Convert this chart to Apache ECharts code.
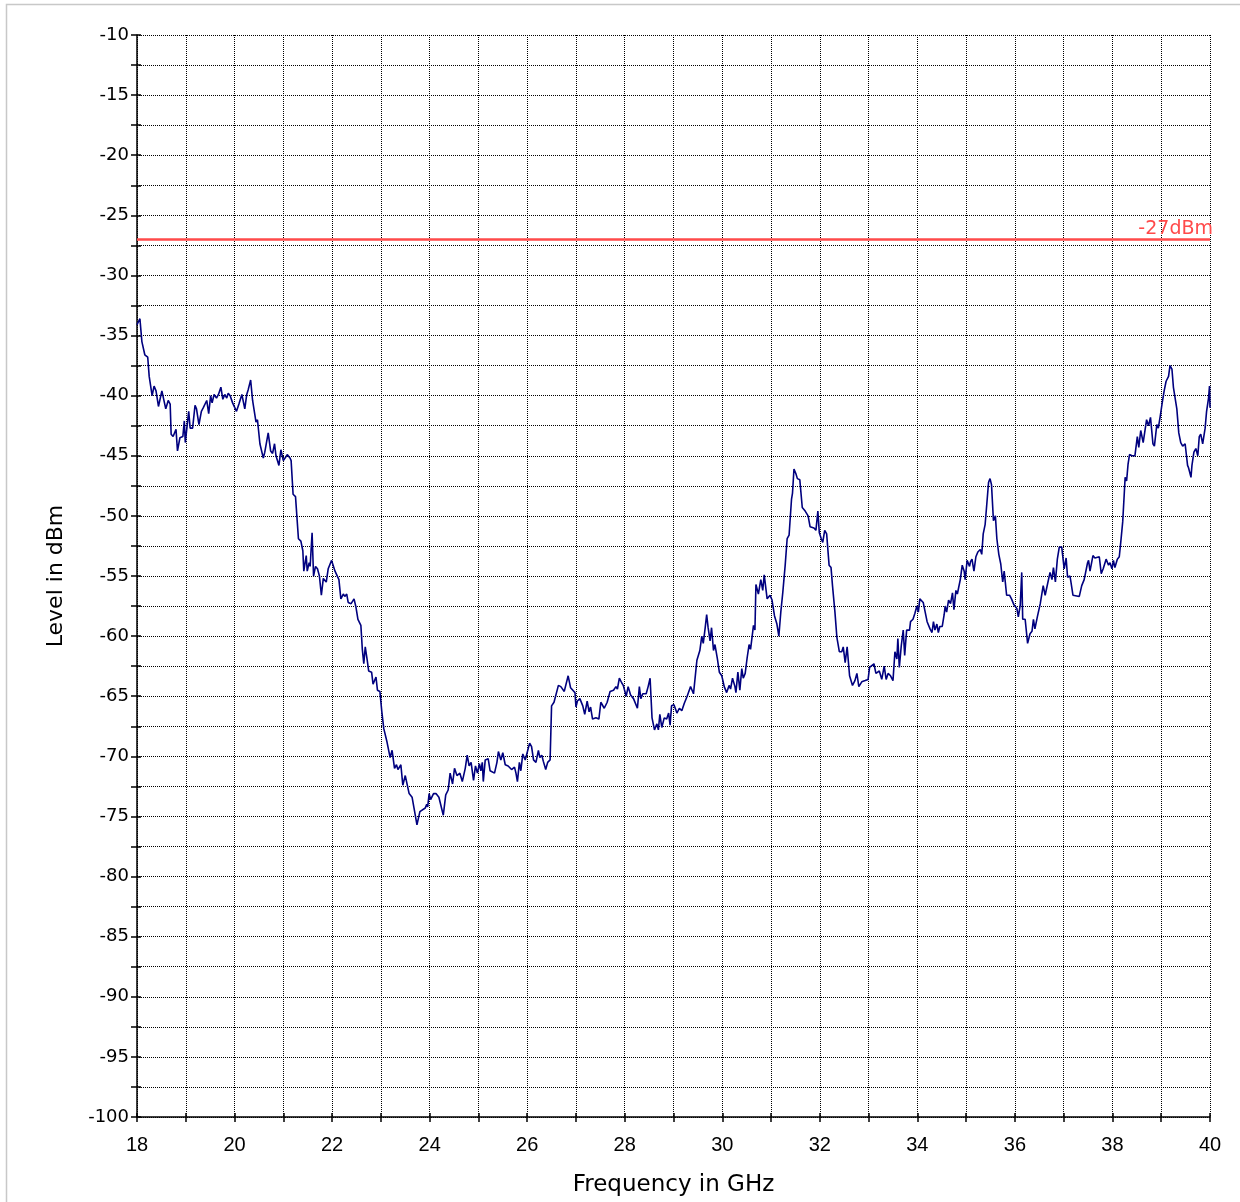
<!DOCTYPE html>
<html>
<head>
<meta charset="utf-8">
<script src="https://cdn.jsdelivr.net/npm/echarts@6/dist/echarts.min.js"></script>
<style>
  html, body { margin: 0; padding: 0; background: #fff; }
  #chart { width: 1240px; height: 1202px; }
</style>
</head>
<body>
<div id="chart"></div>
<script>
// Measured spectrum, 18–40 GHz
const freqGHz = [
  18.00,18.06,18.10,18.16,18.22,18.25,18.28,18.31,18.35,18.39,18.44,18.51,18.59,18.64,18.68,18.70,18.74,18.78,18.80,18.83,
  18.88,18.94,18.97,18.99,19.02,19.06,19.09,19.14,19.19,19.22,19.27,19.32,19.36,19.39,19.43,19.47,19.51,19.54,19.58,19.63,
  19.67,19.72,19.76,19.80,19.84,19.87,19.91,19.96,20.00,20.04,20.09,20.13,20.15,20.21,20.25,20.28,20.33,20.37,20.40,20.44,
  20.47,20.52,20.59,20.62,20.69,20.74,20.78,20.82,20.85,20.91,20.95,21.00,21.05,21.08,21.14,21.16,21.20,21.25,
  21.31,21.36,21.40,21.42,21.47,21.49,21.53,21.55,21.59,21.62,21.66,21.70,21.74,21.78,21.82,21.85,21.88,21.92,21.99,22.06,
  22.14,22.18,22.23,22.26,22.30,22.33,22.39,22.45,22.49,22.53,22.59,22.62,22.65,22.68,22.72,22.75,22.81,22.84,22.90,22.93,
  22.98,23.02,23.06,23.12,23.19,23.23,23.28,23.32,23.35,23.41,23.45,23.50,23.58,23.64,23.68,23.74,23.80,23.84,23.91,23.94,
  23.96,23.99,24.02,24.08,24.13,24.19,24.28,24.33,24.38,24.42,24.47,24.51,24.56,24.62,24.67,24.73,24.77,24.81,24.85,24.90,
  24.94,24.98,25.02,25.05,25.08,25.10,25.14,25.20,25.24,25.33,25.38,25.41,25.46,25.50,25.55,25.61,25.68,25.74,25.77,25.80,
  25.84,25.87,25.91,25.96,26.00,26.05,26.09,26.13,26.18,26.23,26.26,26.30,26.33,26.38,26.42,26.47,26.50,26.55,26.59,26.64,
  26.69,26.76,26.84,26.89,26.93,26.98,27.00,27.03,27.08,27.14,27.18,27.23,27.27,27.30,27.34,27.41,27.47,27.51,27.58,27.64,
  27.70,27.77,27.82,27.85,27.89,27.94,27.97,28.03,28.07,28.12,28.18,28.26,28.30,28.33,28.37,28.44,28.48,28.52,28.56,28.61,
  28.66,28.69,28.72,28.76,28.81,28.86,28.90,28.93,28.96,29.01,29.07,29.12,29.17,29.22,29.28,29.35,29.41,29.44,29.48,29.51,
  29.54,29.58,29.61,29.65,29.68,29.71,29.75,29.78,29.82,29.85,29.90,29.94,29.99,30.04,30.09,30.14,30.17,30.21,30.26,30.28,
  30.32,30.36,30.40,30.43,30.47,30.51,30.55,30.58,30.64,30.67,
  30.69,30.74,30.79,30.83,30.86,30.92,30.98,31.02,31.07,31.12,31.16,31.20,31.24,31.29,31.33,31.37,31.42,31.44,31.47,31.51,
  31.54,31.59,31.64,31.70,31.76,31.80,31.83,31.88,31.92,31.96,31.99,32.03,32.06,32.10,32.14,32.19,32.23,32.26,32.31,32.35,
  32.40,32.45,32.48,32.52,32.56,32.61,32.67,32.72,32.76,32.80,32.86,32.93,32.99,33.02,33.06,33.11,33.15,33.22,33.27,33.32,
  33.36,33.40,33.45,33.50,33.54,33.58,33.60,33.63,33.67,33.71,33.74,33.78,33.84,33.86,33.91,33.95,33.99,34.02,34.05,34.09,
  34.12,34.16,34.20,34.26,34.30,34.33,34.36,34.40,34.43,34.46,34.51,34.55,34.57,34.60,34.64,34.68,34.72,34.75,34.79,34.82,
  34.88,34.92,34.96,34.98,35.02,35.07,35.09,35.12,35.16,35.20,35.24,35.29,35.32,35.35,35.39,35.42,35.46,35.49,35.52,35.56,
  35.60,35.63,35.67,35.71,35.75,35.78,35.83,35.89,35.93,35.98,36.04,36.07,36.11,36.14,36.16,36.21,36.26,36.31,36.35,36.38,
  36.41,36.46,36.52,36.56,36.58,36.62,36.66,36.72,36.76,36.79,36.83,36.87,36.91,36.96,37.01,37.05,37.08,37.13,37.19,37.23,
  37.32,37.37,37.42,37.44,37.49,37.51,37.54,37.60,37.64,37.73,37.77,37.81,37.87,37.92,37.95,37.99,38.02,38.05,38.10,38.14,
  38.17,38.21,38.24,38.26,38.29,38.32,38.35,38.40,38.46,38.51,38.54,38.58,38.63,38.70,38.74,38.78,38.83,38.86,38.91,38.94,
  38.98,39.02,39.06,39.10,39.15,39.18,39.22,39.25,39.28,39.32,39.36,39.40,39.44,39.49,39.54,39.56,39.61,39.63,39.67,39.71,
  39.75,39.78,39.81,39.85,39.90,39.93,39.97,39.99,40.00
];
const levelDbm = [
  -34.1,-33.6,-35.5,-36.6,-36.8,-38.4,-38.4,-40.0,-39.2,-39.6,-40.9,-39.6,-41.1,-40.4,-40.7,-43.2,-43.4,-43.4,-42.8,-44.6,
  -43.5,-43.4,-42.1,-43.9,-43.8,-41.3,-42.7,-42.7,-40.8,-41.1,-42.4,-41.3,-41.0,-41.1,-40.4,-41.5,-40.0,-40.6,-39.9,-40.2,
  -39.9,-39.3,-40.3,-39.9,-40.2,-39.8,-40.0,-40.6,-40.7,-41.3,-40.7,-40.8,-39.9,-41.1,-39.9,-39.5,-38.7,-40.4,-40.5,-42.2,
  -42.0,-44.0,-45.2,-44.7,-43.1,-44.6,-44.8,-44.0,-45.0,-45.8,-44.5,-45.4,-45.1,-44.9,-45.2,-45.4,-48.2,-48.4,
  -51.9,-52.1,-52.9,-54.6,-53.3,-54.6,-53.9,-54.2,-51.4,-55.0,-54.2,-54.4,-55.0,-56.6,-55.2,-55.3,-55.5,-54.4,-53.7,-54.6,
  -55.3,-56.9,-56.5,-56.7,-56.5,-57.2,-57.3,-56.9,-57.6,-58.6,-59.1,-61.1,-62.3,-60.9,-62.0,-62.9,-63.0,-64.0,-63.4,-64.5,
  -64.6,-66.3,-67.7,-68.7,-70.1,-69.5,-71.0,-70.7,-71.1,-70.7,-72.4,-71.6,-73.1,-73.4,-74.3,-75.7,-74.6,-74.7,-74.3,-74.0,
  -74.2,-73.1,-73.6,-73.1,-73.1,-73.4,-74.9,-73.2,-72.8,-71.4,-72.3,-71.0,-71.6,-71.4,-72.1,-71.0,-69.9,-70.8,-70.5,-72.0,
  -70.8,-71.4,-70.6,-71.2,-70.5,-72.1,-70.3,-70.2,-71.2,-71.4,-70.5,-69.6,-70.3,-69.7,-70.7,-70.8,-71.1,-70.9,-71.4,-72.1,
  -70.5,-71.2,-69.8,-70.3,-70.3,-68.9,-69.2,-70.3,-70.5,-69.5,-70.1,-69.9,-70.4,-71.1,-70.5,-70.3,-65.8,-65.5,-65.4,-64.1,
  -64.2,-64.6,-63.3,-64.3,-64.2,-64.7,-65.9,-65.4,-65.2,-65.8,-66.5,-65.4,-66.3,-65.9,-66.9,-66.8,-66.9,-65.5,-66.0,-65.5,
  -64.6,-64.5,-64.2,-64.4,-63.5,-63.9,-64.1,-65.0,-64.2,-64.9,-65.2,-66.0,-64.2,-65.2,-64.8,-64.8,-64.2,-63.5,-66.8,-67.8,
  -67.3,-67.8,-66.5,-67.6,-66.8,-66.9,-66.4,-67.4,-65.8,-65.7,-66.4,-66.0,-66.2,-65.6,-65.0,-64.2,-64.8,-63.6,-62.0,-62.1,
  -61.2,-60.0,-60.6,-59.3,-58.2,-59.3,-60.4,-59.3,-61.2,-60.7,-61.9,-63.0,-63.3,-64.2,-64.7,-64.1,-64.4,-63.5,-64.2,-64.7,
  -63.0,-64.5,-62.7,-63.5,-63.1,-61.8,-60.7,-61.1,-59.1,-59.5,
  -55.7,-56.5,-55.3,-56.2,-54.9,-56.9,-56.6,-57.0,-58.3,-59.0,-60.0,-58.0,-56.4,-54.1,-51.9,-51.6,-48.6,-48.1,-46.1,-46.5,
  -46.9,-47.0,-49.3,-49.6,-50.0,-50.9,-50.8,-51.0,-51.2,-49.6,-51.4,-51.9,-52.2,-51.2,-51.5,-54.1,-54.3,-55.8,-58.0,-60.1,
  -61.3,-61.3,-60.9,-62.2,-60.9,-63.3,-64.1,-63.7,-63.1,-64.2,-63.8,-63.7,-63.6,-62.6,-62.7,-62.3,-63.1,-62.9,-63.6,-62.5,
  -63.6,-63.1,-63.3,-63.7,-61.3,-61.9,-60.2,-62.6,-60.8,-59.5,-61.6,-59.5,-59.5,-58.8,-58.6,-58.1,-57.5,-58.0,-56.9,-56.8,
  -57.2,-57.3,-58.8,-59.4,-59.7,-58.8,-59.5,-59.0,-59.7,-59.2,-59.2,-58.2,-57.5,-58.0,-57.0,-57.3,-56.4,-57.8,-56.2,-56.5,
  -55.3,-54.1,-54.6,-55.3,-53.7,-54.2,-53.8,-53.6,-54.6,-53.4,-53.0,-52.8,-53.2,-51.5,-50.7,-49.2,-47.2,-46.9,-47.4,-50.4,
  -50.0,-51.9,-53.2,-54.0,-55.5,-54.6,-56.6,-56.6,-56.9,-57.4,-57.7,-58.4,-57.4,-54.7,-58.6,-58.6,-60.6,-59.8,-59.6,-58.6,
  -59.4,-58.4,-57.3,-57.2,-55.8,-56.6,-56.5,-54.7,-55.3,-54.3,-55.5,-53.6,-52.6,-52.6,-54.4,-53.5,-55.1,-55.0,-56.6,-56.6,
  -56.7,-55.8,-55.3,-55.4,-53.9,-53.7,-54.6,-53.3,-53.5,-53.4,-54.8,-54.4,-53.6,-54.1,-53.9,-54.4,-53.7,-54.3,-53.6,-53.4,
  -52.2,-50.5,-48.3,-46.8,-47.1,-45.7,-44.9,-45.0,-45.0,-43.4,-44.3,-42.9,-43.9,-42.0,-42.5,-41.8,-44.0,-44.2,-42.4,-42.7,
  -41.7,-40.6,-39.6,-38.8,-38.4,-37.5,-37.8,-39.3,-39.2,-41.1,-43.1,-43.9,-44.2,-44.0,-45.8,-46.0,-46.8,-45.8,-44.7,-44.4,
  -45.0,-43.4,-43.2,-44.0,-42.7,-41.3,-40.2,-39.2,-41.0
];

// Axis ranges and limit
const freqRange = [18, 40];
const levelRange = [-100, -10];
const limitDbm = -27;
const limitLabel = '-27dBm';

const chart = echarts.init(document.getElementById('chart'), null, { renderer: 'canvas' });

const gridDots = { color: '#000', width: 1, type: [1, 1] };
const tickStyle = { color: '#000', width: 1.5 };
const sansWide = '"DejaVu Sans", sans-serif';
const sans = '"Liberation Sans", Arial, sans-serif';

// Secondary axes only add the inner half of each tick so ticks cross the axis line
const innerTickX = {
  type: 'value', min: freqRange[0], max: freqRange[1], interval: 1, position: 'bottom',
  axisLine: { show: false }, axisLabel: { show: false }, splitLine: { show: false },
  axisTick: { show: true, inside: true, length: 4, lineStyle: tickStyle }
};
const innerTickY = {
  type: 'value', min: levelRange[0], max: levelRange[1], interval: 5, position: 'left',
  axisLine: { show: false }, axisLabel: { show: false }, splitLine: { show: false },
  axisTick: { show: true, inside: true, length: 4, lineStyle: tickStyle },
  minorTick: { show: true, splitNumber: 2, length: 4, lineStyle: tickStyle }
};

chart.setOption({
  animation: false,
  backgroundColor: '#fff',
  graphic: [{
    type: 'rect',
    shape: { x: 6.5, y: 4.5, width: 1240, height: 1210 },
    style: { fill: 'none', stroke: '#c8c8c8', lineWidth: 1.5 },
    silent: true
  }],
  grid: { left: 137, right: 30, top: 35, bottom: 82, containLabel: false },
  xAxis: [{
    type: 'value',
    min: freqRange[0],
    max: freqRange[1],
    interval: 1,
    name: 'Frequency in GHz',
    nameLocation: 'middle',
    nameGap: 57,
    nameTextStyle: { fontSize: 23, color: '#000', fontFamily: sansWide },
    axisLine: { show: true, onZero: false, lineStyle: { color: '#000', width: 1.5 } },
    axisTick: { show: true, length: 5, inside: false, lineStyle: tickStyle },
    axisLabel: {
      fontSize: 20, color: '#000', fontFamily: sans, margin: 18,
      formatter: v => (v % 2 === 0 ? String(v) : '')
    },
    splitLine: { show: true, lineStyle: gridDots }
  }, innerTickX],
  yAxis: [{
    type: 'value',
    min: levelRange[0],
    max: levelRange[1],
    interval: 5,
    name: 'Level in dBm',
    nameLocation: 'middle',
    nameGap: 70,
    nameRotate: 90,
    nameTextStyle: { fontSize: 22, color: '#000', fontFamily: sansWide },
    axisLine: { show: true, onZero: false, lineStyle: { color: '#000', width: 1.5 } },
    axisTick: { show: true, length: 6, lineStyle: tickStyle },
    minorTick: { show: true, splitNumber: 2, length: 6, lineStyle: tickStyle },
    axisLabel: { fontSize: 18, color: '#000', fontFamily: sansWide, margin: 8 },
    splitLine: { show: true, lineStyle: gridDots },
    minorSplitLine: { show: true, lineStyle: gridDots }
  }, innerTickY],
  series: [{
    type: 'line',
    xAxisIndex: 0,
    yAxisIndex: 0,
    data: freqGHz.map((f, i) => [f, levelDbm[i]]),
    showSymbol: false,
    symbol: 'none',
    lineStyle: { color: '#00007f', width: 1.6 },
    clip: true,
    markLine: {
      silent: true,
      symbol: 'none',
      data: [{ yAxis: limitDbm }],
      lineStyle: { color: '#ff4a4a', width: 2.5, type: 'solid' },
      label: {
        show: true,
        position: 'insideEndTop',
        formatter: limitLabel,
        color: '#ff4a4a',
        fontSize: 19,
        fontFamily: sansWide,
        distance: [-3, 1]
      }
    }
  }]
});
</script>
</body>
</html>
